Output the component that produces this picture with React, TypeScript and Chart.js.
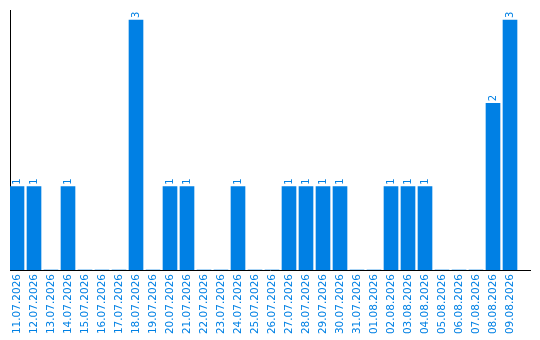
import React, { useEffect, useRef } from "react";
import { Chart, registerables } from "chart.js";

Chart.register(...registerables);

const dates = [
  "11.07.2026", "12.07.2026", "13.07.2026", "14.07.2026", "15.07.2026",
  "16.07.2026", "17.07.2026", "18.07.2026", "19.07.2026", "20.07.2026",
  "21.07.2026", "22.07.2026", "23.07.2026", "24.07.2026", "25.07.2026",
  "26.07.2026", "27.07.2026", "28.07.2026", "29.07.2026", "30.07.2026",
  "31.07.2026", "01.08.2026", "02.08.2026", "03.08.2026", "04.08.2026",
  "05.08.2026", "06.08.2026", "07.08.2026", "08.08.2026", "09.08.2026",
];

const counts = [
  1, 1, 0, 1, 0, 0, 0, 3, 0, 1,
  1, 0, 0, 1, 0, 0, 1, 1, 1, 1,
  0, 0, 1, 1, 1, 0, 0, 0, 2, 3,
];

const BLUE = "#0080e4";
const FONT = "'DejaVu Sans', Verdana, sans-serif";

// Writes each non-zero count vertically just above its bar
const valueLabels = {
  id: "valueLabels",
  afterDatasetsDraw(chart: any) {
    const { ctx } = chart;
    const meta = chart.getDatasetMeta(0);
    ctx.save();
    ctx.fillStyle = BLUE;
    ctx.font = `10px ${FONT}`;
    ctx.textAlign = "left";
    ctx.textBaseline = "middle";
    meta.data.forEach((bar: any, i: number) => {
      const v = counts[i];
      if (!v) return;
      ctx.save();
      ctx.translate(bar.x, bar.y - 2);
      ctx.rotate(-Math.PI / 2);
      ctx.fillText(String(v), 0, 0);
      ctx.restore();
    });
    ctx.restore();
  },
};

export default function App() {
  const ref = useRef<HTMLCanvasElement | null>(null);

  useEffect(() => {
    document.body.style.margin = "0";
    const chart = new Chart(ref.current!, {
      type: "bar",
      data: {
        datasets: [
          {
            data: counts.map((v, i) => ({ x: i, y: v })),
            backgroundColor: BLUE,
            borderWidth: 0,
            barThickness: 14,
          },
        ],
      },
      options: {
        animation: false,
        responsive: false,
        maintainAspectRatio: false,
        layout: { padding: { left: 10, top: 10, right: 10, bottom: 0 } },
        plugins: {
          legend: { display: false },
          tooltip: { enabled: false },
        },
        scales: {
          x: {
            type: "linear",
            min: -7 / 17,
            max: 513 / 17,
            offset: false,
            grid: { display: false, drawTicks: false },
            border: { display: true, color: "#000", width: 1 },
            ticks: {
              stepSize: 1,
              includeBounds: false,
              autoSkip: false,
              minRotation: 90,
              maxRotation: 90,
              padding: 4,
              color: BLUE,
              font: { family: FONT, size: 10.5 },
              callback: (v: any) => dates[v] ?? "",
            },
            afterFit: (s: any) => {
              s.height = 70;
              s.paddingLeft = 0;
              s.paddingRight = 0;
            },
          },
          y: {
            min: 0,
            max: 3.12,
            grid: { display: false, drawTicks: false },
            border: { display: true, color: "#000", width: 1 },
            ticks: { display: false },
            afterFit: (s: any) => {
              s.width = 0;
              s.paddingTop = 0;
              s.paddingBottom = 0;
            },
          },
        },
      },
      plugins: [valueLabels],
    });
    return () => chart.destroy();
  }, []);

  return (
    <div style={{ position: "absolute", left: 0, top: 0, width: 540, height: 340 }}>
      <canvas ref={ref} width={540} height={340} />
    </div>
  );
}
